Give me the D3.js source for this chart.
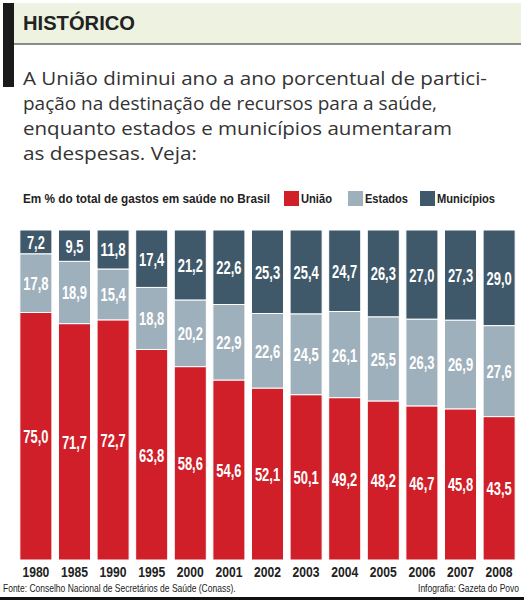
<!DOCTYPE html>
<html>
<head>
<meta charset="utf-8">
<script src="https://cdn.jsdelivr.net/npm/d3@7"></script>
<style>
  body { margin: 0; background: #fff; }
  svg { display: block; }
  .cond { font-family: "Liberation Sans", Arial, sans-serif; }
</style>
</head>
<body>
<svg width="524" height="601"></svg>
<script>
var years = ["1980", "1985", "1990", "1995", "2000", "2001", "2002", "2003", "2004", "2005", "2006", "2007", "2008"];
var uniao = [75.0, 71.7, 72.7, 63.8, 58.6, 54.6, 52.1, 50.1, 49.2, 48.2, 46.7, 45.8, 43.5];
var estados = [17.8, 18.9, 15.4, 18.8, 20.2, 22.9, 22.6, 24.5, 26.1, 25.5, 26.3, 26.9, 27.6];
var municipios = [7.2, 9.5, 11.8, 17.4, 21.2, 22.6, 25.3, 25.4, 24.7, 26.3, 27.0, 27.3, 29.0];
var seriesNames = ["União", "Estados", "Municípios"];
var colors = ["#d01f29", "#9fb0bd", "#3f596a"];

var introLines = [
  "A União diminui ano a ano porcentual de partici-",
  "pação na destinação de recursos para a saúde,",
  "enquanto estados e municípios aumentaram",
  "as despesas. Veja:"
];
var introWidths = [464, 414, 429, 174];

var svg = d3.select("svg");
const width = +svg.attr("width");

// header
svg.append("rect").attr("x", 14).attr("y", 3).attr("width", 507).attr("height", 41).attr("fill", "#eef2e0");
svg.append("line").attr("x1", 14).attr("x2", 521).attr("y1", 44).attr("y2", 44).attr("stroke", "#222").attr("stroke-width", 1.2);
svg.append("rect").attr("x", 3).attr("y", 3).attr("width", 11).attr("height", 84).attr("fill", "#1a1a1a");
svg.append("text")
  .attr("x", 23).attr("y", 30)
  .attr("font-family", "Liberation Sans, Arial, sans-serif")
  .attr("font-weight", "bold")
  .attr("font-size", 21)
  .attr("textLength", 112)
  .attr("lengthAdjust", "spacingAndGlyphs")
  .attr("fill", "#222")
  .text("HISTÓRICO");

svg.selectAll("text.intro")
  .data(introLines)
  .enter()
  .append("text")
  .attr("class", "intro")
  .attr("x", 23)
  .attr("y", (d, i) => 85 + i * 25)
  .attr("font-family", "Open Sans, sans-serif")
  .attr("font-size", 19)
  .attr("fill", "#333")
  .attr("textLength", (d, i) => introWidths[i])
  .attr("lengthAdjust", "spacingAndGlyphs")
  .text(d => d);

// legend
svg.append("text")
  .attr("class", "cond")
  .attr("x", 23).attr("y", 203)
  .attr("font-size", 12)
  .attr("font-weight", "bold")
  .attr("fill", "#222")
  .attr("textLength", 247)
  .attr("lengthAdjust", "spacingAndGlyphs")
  .text("Em % do total de gastos em saúde no Brasil");

var legendX = [284, 348, 420];
var legendW = [31, 43, 58];
var leg = svg.selectAll("g.leg")
  .data(seriesNames)
  .enter()
  .append("g")
  .attr("class", "leg")
  .attr("transform", (d, i) => "translate(" + legendX[i] + ",191)");
leg.append("rect").attr("width", 15).attr("height", 15).attr("fill", (d, i) => colors[i]);
leg.append("text")
  .attr("class", "cond")
  .attr("x", 17).attr("y", 12)
  .attr("font-size", 12)
  .attr("font-weight", "bold")
  .attr("fill", "#222")
  .attr("textLength", (d, i) => legendW[i])
  .attr("lengthAdjust", "spacingAndGlyphs")
  .text(d => d);

// chart
var data = years.map((y, i) => ({ year: y, "União": uniao[i], "Estados": estados[i], "Municípios": municipios[i] }));

var stack = d3.stack().keys(seriesNames).offset(d3.stackOffsetExpand);
var layers = stack(data);

var x = d3.scaleBand().domain(years).range([16, 519]).paddingInner(0.17).paddingOuter(0.1);
var y = d3.scaleLinear().domain([0, 1]).range([560, 230]);

var fmt = v => d3.format(".1f")(v).replace(".", ",");

var layer = svg.selectAll("g.layer")
  .data(layers)
  .enter()
  .append("g")
  .attr("class", "layer")
  .attr("fill", (d, i) => colors[i]);

layer.selectAll("rect")
  .data(d => d)
  .enter()
  .append("rect")
  .attr("x", d => x(d.data.year))
  .attr("width", x.bandwidth())
  .attr("y", d => y(d[1]))
  .attr("height", d => y(d[0]) - y(d[1]))
  .attr("stroke", "#fff")
  .attr("stroke-width", 1);

layer.selectAll("text")
  .data((d, i) => d.map(p => ({ p: p, key: seriesNames[i] })))
  .enter()
  .append("text")
  .attr("class", "cond")
  .attr("x", d => x(d.p.data.year) + x.bandwidth() / 2)
  .attr("y", d => (y(d.p[0]) + y(d.p[1])) / 2 + 7)
  .attr("text-anchor", "middle")
  .attr("font-size", 18)
  .attr("font-weight", "bold")
  .attr("fill", "#fff")
  .attr("textLength", d => (fmt(d.p.data[d.key]).length - 1) * 7.4 + 3)
  .attr("lengthAdjust", "spacingAndGlyphs")
  .text(d => fmt(d.p.data[d.key]));

// x axis labels
var xAxis = svg.append("g")
  .attr("transform", "translate(0,561)")
  .call(d3.axisBottom(x).tickSize(0).tickPadding(4));
xAxis.select(".domain").remove();
xAxis.selectAll("text")
  .attr("class", "cond")
  .attr("font-size", 14)
  .attr("font-weight", "bold")
  .attr("fill", "#222")
  .attr("dy", "0.85em")
  .attr("textLength", 27)
  .attr("lengthAdjust", "spacingAndGlyphs");

// footer (narrowed with a horizontal scale)
svg.append("text")
  .attr("class", "cond")
  .attr("transform", "translate(3,592) scale(0.85,1)")
  .attr("font-size", 10)
  .attr("fill", "#222")
  .text("Fonte: Conselho Nacional de Secretários de Saúde (Conass).");
svg.append("text")
  .attr("class", "cond")
  .attr("transform", "translate(519,592) scale(0.85,1)")
  .attr("text-anchor", "end")
  .attr("font-size", 10)
  .attr("fill", "#222")
  .text("Infografia: Gazeta do Povo");
svg.append("rect").attr("x", 0).attr("y", 597).attr("width", width).attr("height", 3).attr("fill", "#111");
</script>
</body>
</html>
